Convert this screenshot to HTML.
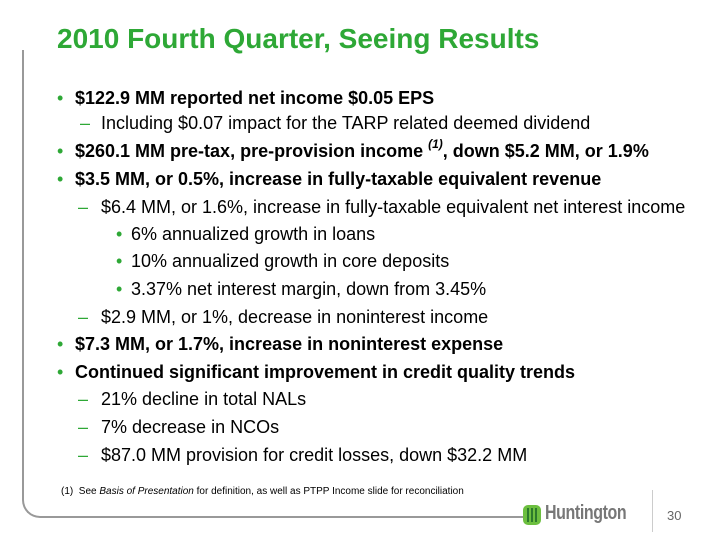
<!DOCTYPE html>
<html><head><meta charset="utf-8"><style>
body{margin:0;width:720px;height:540px;background:#fff;position:relative;overflow:hidden;font-family:"Liberation Sans",Arial,sans-serif;color:#000}
.t{position:absolute;left:57px;top:23px;font-size:28px;font-weight:bold;color:#2ea836;white-space:nowrap}
.l{position:absolute;font-size:18px;white-space:nowrap;line-height:20px}
.b{font-weight:bold}
.g{position:absolute;color:#2ea836;font-size:18px;line-height:20px}
.frame{position:absolute;left:22px;top:50px;width:500px;height:466px;border-left:2px solid #999;border-bottom:2px solid #999;border-bottom-left-radius:18px}
sup{font-size:12px;line-height:0;position:relative;top:-2px}
</style></head><body>
<div class="frame"></div>
<div class="t">2010 Fourth Quarter, Seeing Results</div>

<div class="g" style="left:57px;top:88px">•</div><div class="l b" style="left:75px;top:88px">$122.9 MM reported net income $0.05 EPS</div>
<div class="g" style="left:80px;top:113px">–</div><div class="l" style="left:101px;top:113px">Including $0.07 impact for the TARP related deemed dividend</div>
<div class="g" style="left:57px;top:141px">•</div><div class="l b" style="left:75px;top:141px">$260.1 MM pre-tax, pre-provision income <sup><i>(1)</i></sup>, down $5.2 MM, or 1.9%</div>
<div class="g" style="left:57px;top:169px">•</div><div class="l b" style="left:75px;top:169px">$3.5 MM, or 0.5%, increase in fully-taxable equivalent revenue</div>
<div class="g" style="left:78px;top:197px">–</div><div class="l" style="left:101px;top:197px">$6.4 MM, or 1.6%, increase in fully-taxable equivalent net interest income</div>
<div class="g" style="left:116px;top:224px">•</div><div class="l" style="left:131px;top:224px">6% annualized growth in loans</div>
<div class="g" style="left:116px;top:251px">•</div><div class="l" style="left:131px;top:251px">10% annualized growth in core deposits</div>
<div class="g" style="left:116px;top:279px">•</div><div class="l" style="left:131px;top:279px">3.37% net interest margin, down from 3.45%</div>
<div class="g" style="left:78px;top:307px">–</div><div class="l" style="left:101px;top:307px">$2.9 MM, or 1%, decrease in noninterest income</div>
<div class="g" style="left:57px;top:334px">•</div><div class="l b" style="left:75px;top:334px">$7.3 MM, or 1.7%, increase in noninterest expense</div>
<div class="g" style="left:57px;top:362px">•</div><div class="l b" style="left:75px;top:362px">Continued significant improvement in credit quality trends</div>
<div class="g" style="left:78px;top:389px">–</div><div class="l" style="left:101px;top:389px">21% decline in total NALs</div>
<div class="g" style="left:78px;top:417px">–</div><div class="l" style="left:101px;top:417px">7% decrease in NCOs</div>
<div class="g" style="left:78px;top:445px">–</div><div class="l" style="left:101px;top:445px">$87.0 MM provision for credit losses, down $32.2 MM</div>

<div class="l" style="left:61px;top:486px;font-size:10px;line-height:12px">(1)&nbsp; See <i>Basis of Presentation</i> for definition, as well as PTPP Income slide for reconciliation</div>

<svg style="position:absolute;left:522px;top:504px" width="20" height="22"><rect x="1" y="1" width="18" height="20" rx="5" fill="#6cbf3f"/><path d="M6 4v14M10 4v14M14 4v14" stroke="#2c7a2c" stroke-width="2"/></svg>
<div class="l b" style="left:545px;top:503px;font-size:20px;color:#777;letter-spacing:-0.5px;transform:scaleX(0.8);transform-origin:left">Huntington</div>
<div style="position:absolute;left:652px;top:490px;width:1px;height:42px;background:#ccc"></div>
<div class="l" style="left:667px;top:506px;font-size:13px;color:#666">30</div>
</body></html>
